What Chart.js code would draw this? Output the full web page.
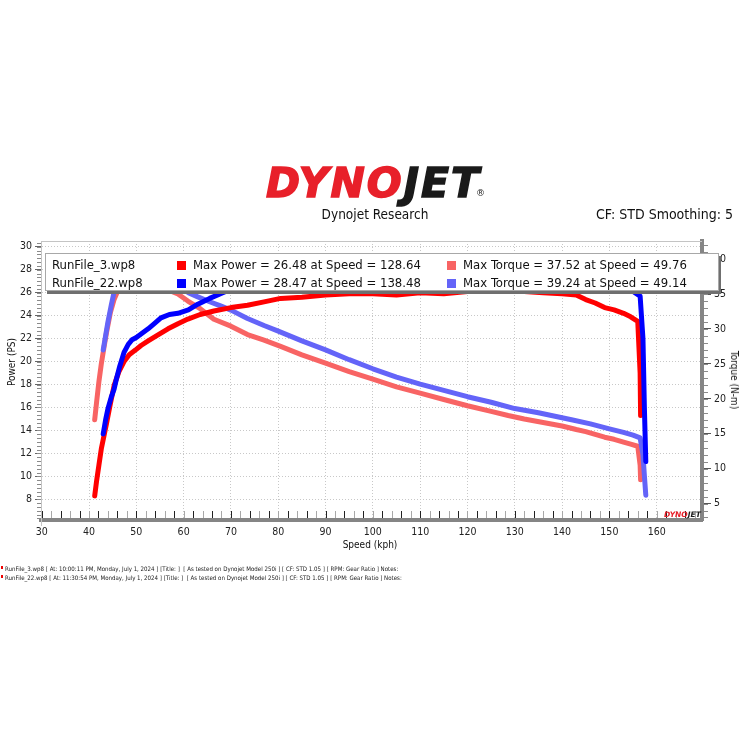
<!DOCTYPE html>
<html>
<head>
<meta charset="utf-8">
<script src="https://cdn.jsdelivr.net/npm/chart.js@4"></script>
<style>
body{margin:0;background:#fff;}
#wrap{position:relative;width:750px;height:750px;overflow:hidden;font-family:"DejaVu Sans Condensed","DejaVu Sans",sans-serif;color:#111;}
#c{position:absolute;left:0;top:0;}
.abs{position:absolute;white-space:nowrap;}
.sq{position:absolute;width:9px;height:9px;}
.lg{position:absolute;white-space:nowrap;font-size:13px;line-height:14px;}
.foot{position:absolute;left:5px;white-space:nowrap;font-size:6.1px;line-height:8px;color:#222;}
</style>
</head>
<body>
<div id="wrap">
<canvas id="c" width="750" height="750"></canvas>

<!-- header -->
<div class="abs" style="left:266px;top:163px;font-family:'DejaVu Sans';font-weight:bold;font-style:italic;font-size:41px;line-height:41px;letter-spacing:2px;"><span style="color:#e8202a;-webkit-text-stroke:1.5px #e8202a">DYNO</span><span style="color:#1a1a1a;-webkit-text-stroke:1.5px #1a1a1a">JET</span></div>
<div class="abs" style="left:476px;top:188px;font-family:'DejaVu Sans';font-size:9px;line-height:10px;color:#222;">®</div>
<div class="abs" style="left:0;width:750px;top:206px;text-align:center;font-size:13.5px;line-height:16px;">Dynojet Research</div>
<div class="abs" style="right:17px;top:206px;font-size:14px;line-height:16px;">CF: STD Smoothing: 5</div>

<!-- legend box -->
<div class="abs" style="left:45px;top:253px;width:672px;height:36px;background:#fff;border:1px solid #a8a8a8;box-shadow:2px 3px 0 #6f6f6f;"></div>
<div class="lg" style="left:52px;top:258px;">RunFile_3.wp8</div>
<div class="sq" style="left:177px;top:261px;background:#ff0000"></div>
<div class="lg" style="left:193px;top:258px;">Max Power = 26.48 at Speed = 128.64</div>
<div class="sq" style="left:447px;top:261px;background:#f86464"></div>
<div class="lg" style="left:463px;top:258px;">Max Torque = 37.52 at Speed = 49.76</div>
<div class="lg" style="left:52px;top:276px;">RunFile_22.wp8</div>
<div class="sq" style="left:177px;top:279px;background:#0000ff"></div>
<div class="lg" style="left:193px;top:276px;">Max Power = 28.47 at Speed = 138.48</div>
<div class="sq" style="left:447px;top:279px;background:#6464f8"></div>
<div class="lg" style="left:463px;top:276px;">Max Torque = 39.24 at Speed = 49.14</div>

<!-- axis titles -->
<div class="abs" style="left:12px;top:362px;font-size:10px;line-height:12px;transform:translate(-50%,-50%) rotate(-90deg);">Power (PS)</div>
<div class="abs" style="left:734px;top:380px;font-size:10px;line-height:12px;transform:translate(-50%,-50%) rotate(90deg);">Torque (N-m)</div>
<div class="abs" style="left:370px;top:545px;font-size:10px;line-height:12px;transform:translate(-50%,-50%);">Speed (kph)</div>

<!-- watermark -->
<div class="abs" style="left:664px;top:511px;font-family:'DejaVu Sans';font-weight:bold;font-style:italic;font-size:7.5px;line-height:8px;"><span style="color:#e8202a">DYNO</span><span style="color:#1a1a1a">JET</span></div>

<!-- footer -->
<div class="abs" style="left:1px;top:566px;width:2px;height:3px;background:#e00"></div>
<div class="foot" style="top:565px;">RunFile_3.wp8 [ At: 10:00:11 PM, Monday, July 1, 2024 ] [Title: ]&nbsp; [ As tested on Dynojet Model 250i ] [ CF: STD 1.05 ] [ RPM: Gear Ratio ] Notes:</div>
<div class="abs" style="left:1px;top:575px;width:2px;height:3px;background:#e00"></div>
<div class="foot" style="top:574px;">RunFile_22.wp8 [ At: 11:30:54 PM, Monday, July 1, 2024 ] [Title: ]&nbsp; [ As tested on Dynojet Model 250i ] [ CF: STD 1.05 ] [ RPM: Gear Ratio ] Notes:</div>
</div>

<script>
// run 3
const speed3 = [41.2, 41.6, 42.1, 42.6, 43.2, 43.7, 44.5, 45.3, 46.3, 47.4, 48.5, 49.8, 51, 52.5, 54.5, 56.7, 58.8, 60.9, 63.5, 66.4, 70, 73.5, 77, 80.5, 85, 90, 95, 100, 105, 110, 115, 120, 125, 128.6, 132, 136, 140, 143, 145, 147, 149, 151, 153, 154.5, 156, 156.5, 156.6]
const power3 = [8.3, 9.6, 11.0, 12.4, 13.6, 14.6, 16.3, 17.9, 19.1, 20.0, 20.6, 21.0, 21.4, 21.8, 22.3, 22.85, 23.3, 23.7, 24.1, 24.4, 24.7, 24.9, 25.2, 25.5, 25.6, 25.8, 25.9, 25.9, 25.8, 26.0, 25.9, 26.1, 26.2, 26.48, 26.1, 26.0, 25.9, 25.8, 25.4, 25.1, 24.7, 24.5, 24.2, 23.9, 23.5, 19.0, 15.3]
const torque3 = [17.0, 19.5, 22.5, 25.0, 27.5, 29.5, 32.3, 34.2, 35.8, 36.8, 37.3, 37.52, 37.4, 37.0, 36.4, 35.6, 35.0, 34.0, 32.9, 31.4, 30.4, 29.2, 28.4, 27.5, 26.3, 25.1, 23.9, 22.8, 21.7, 20.8, 19.9, 19.0, 18.2, 17.6, 17.1, 16.6, 16.1, 15.6, 15.3, 14.9, 14.5, 14.2, 13.8, 13.5, 13.2, 10.5, 8.4]
// run 22
const speed22 = [43.0, 43.5, 44.0, 44.7, 45.3, 45.8, 46.5, 47.4, 48.3, 49.1, 50, 51, 52.5, 53.8, 55.2, 57, 58.8, 61, 63, 65.5, 67.8, 70, 73.5, 77, 80, 85, 90, 95, 100, 105, 110, 115, 120, 125, 130, 135, 138.5, 142, 146, 150, 153, 155, 156.5, 157.1, 157.4, 157.7]
const power22 = [13.7, 14.9, 15.9, 16.9, 17.6, 18.5, 19.6, 20.8, 21.5, 21.9, 22.1, 22.4, 22.85, 23.3, 23.8, 24.1, 24.2, 24.5, 25.0, 25.5, 25.9, 26.3, 26.7, 27.0, 27.2, 27.5, 27.7, 27.9, 28.0, 28.1, 28.1, 28.2, 28.3, 28.3, 28.4, 28.4, 28.47, 28.3, 27.9, 27.3, 26.6, 26.1, 25.7, 22.0, 16.0, 11.3]
const torque22 = [27.0, 29.0, 31.0, 33.4, 35.3, 36.9, 38.0, 38.8, 39.1, 39.24, 39.1, 38.8, 38.4, 37.9, 37.4, 36.6, 36.0, 35.2, 34.6, 33.9, 33.3, 32.7, 31.5, 30.5, 29.7, 28.3, 27.0, 25.6, 24.3, 23.1, 22.1, 21.2, 20.3, 19.5, 18.6, 18.0, 17.5, 17.0, 16.4, 15.7, 15.2, 14.8, 14.4, 12.0, 9.0, 6.2]

const speedTicks = [30, 40, 50, 60, 70, 80, 90, 100, 110, 120, 130, 140, 150, 160]
const powerTicks = [8, 10, 12, 14, 16, 18, 20, 22, 24, 26, 28, 30]
const torqueTicks = [5, 10, 15, 20, 25, 30, 35, 40]

const FONT = '"DejaVu Sans Condensed", "DejaVu Sans", sans-serif'

function pts(xs, ys){
    return xs.map((x, i) => ({x: x, y: ys[i]}))
}

// thin frame + the small ticks along the axes
const frame = {
    id: 'frame',
    afterDraw(chart){
        const ctx = chart.ctx
        const a = chart.chartArea
        const sx = chart.scales.x, sp = chart.scales.yPower, st = chart.scales.yTorque
        ctx.save()
        ctx.lineWidth = 1
        ctx.strokeStyle = '#c4c4c4'
        ctx.beginPath()
        ctx.moveTo(a.left, a.top + 0.5); ctx.lineTo(a.right, a.top + 0.5)
        ctx.moveTo(a.left + 0.5, a.top); ctx.lineTo(a.left + 0.5, a.bottom + 6)
        ctx.stroke()
        // left minor
        ctx.strokeStyle = '#8a8a8a'
        ctx.beginPath()
        for (let k = 19; k <= 91; k++){
            const y = Math.round(sp.getPixelForValue(k / 3)) + 0.5
            ctx.moveTo(a.left - 4, y); ctx.lineTo(a.left, y)
        }
        ctx.stroke()
        // right minor
        ctx.beginPath()
        for (let v = 3; v <= 42; v++){
            const y = Math.round(st.getPixelForValue(v)) + 0.5
            ctx.moveTo(a.right + 2, y); ctx.lineTo(a.right + 6, y)
        }
        ctx.stroke()
        // bottom ticks every 2 kph
        for (let v = 30; v <= 168; v += 2){
            const x = Math.round(sx.getPixelForValue(v)) + 0.5
            ctx.strokeStyle = (v % 4 === 2) ? '#222' : '#a8a8a8'
            ctx.beginPath()
            ctx.moveTo(x, a.bottom - 2); ctx.lineTo(x, a.bottom - 9)
            ctx.stroke()
        }
        ctx.restore()
    }
}

function line(label, xs, ys, color, axis){
    return {
        label: label,
        data: pts(xs, ys),
        yAxisID: axis,
        borderColor: color,
        backgroundColor: color,
        borderWidth: 5,
        pointRadius: 0,
        tension: 0,
        borderJoinStyle: 'round',
        borderCapStyle: 'round'
    }
}

new Chart(document.getElementById('c'), {
    type: 'line',
    data: {
        datasets: [
            line('RunFile_22 Power', speed22, power22, '#0000ff', 'yPower'),
            line('RunFile_3 Power', speed3, power3, '#ff0000', 'yPower'),
            line('RunFile_22 Torque', speed22, torque22, '#6464f8', 'yTorque'),
            line('RunFile_3 Torque', speed3, torque3, '#f86464', 'yTorque')
        ]
    },
    options: {
        responsive: false,
        animation: false,
        layout: {padding: {left: 0, right: 0, top: 241, bottom: 200}},
        plugins: {legend: {display: false}, tooltip: {enabled: false}},
        scales: {
            x: {
                type: 'linear',
                min: 29.85,
                max: 169.58,
                afterBuildTicks: s => { s.ticks = speedTicks.map(v => ({value: v})) },
                afterFit: s => { s.height = 30 },
                grid: {color: '#c8c8c8', drawTicks: false},
                border: {dash: [1, 2], color: '#858585', width: 4},
                ticks: {autoSkip: false, maxRotation: 0, padding: 6, color: '#222', font: {family: FONT, size: 10.5}}
            },
            yPower: {
                type: 'linear',
                position: 'left',
                min: 6.2,
                max: 30.5,
                afterBuildTicks: s => { s.ticks = powerTicks.map(v => ({value: v})) },
                afterFit: s => { s.width = 41 },
                grid: {color: '#c8c8c8', tickColor: '#666', tickLength: 6, tickBorderDash: []},
                border: {dash: [1, 2], color: '#bbbbbb', width: 1},
                ticks: {padding: 3, color: '#222', font: {family: FONT, size: 10.5}}
            },
            yTorque: {
                type: 'linear',
                position: 'right',
                min: 2.64,
                max: 42.6,
                afterBuildTicks: s => { s.ticks = torqueTicks.map(v => ({value: v})) },
                afterFit: s => { s.width = 48 },
                grid: {drawOnChartArea: false, tickColor: '#555', tickLength: 9},
                border: {color: '#858585', width: 4},
                ticks: {padding: 3, color: '#222', font: {family: FONT, size: 10.5}}
            }
        }
    },
    plugins: [frame]
})
</script>
</body>
</html>
